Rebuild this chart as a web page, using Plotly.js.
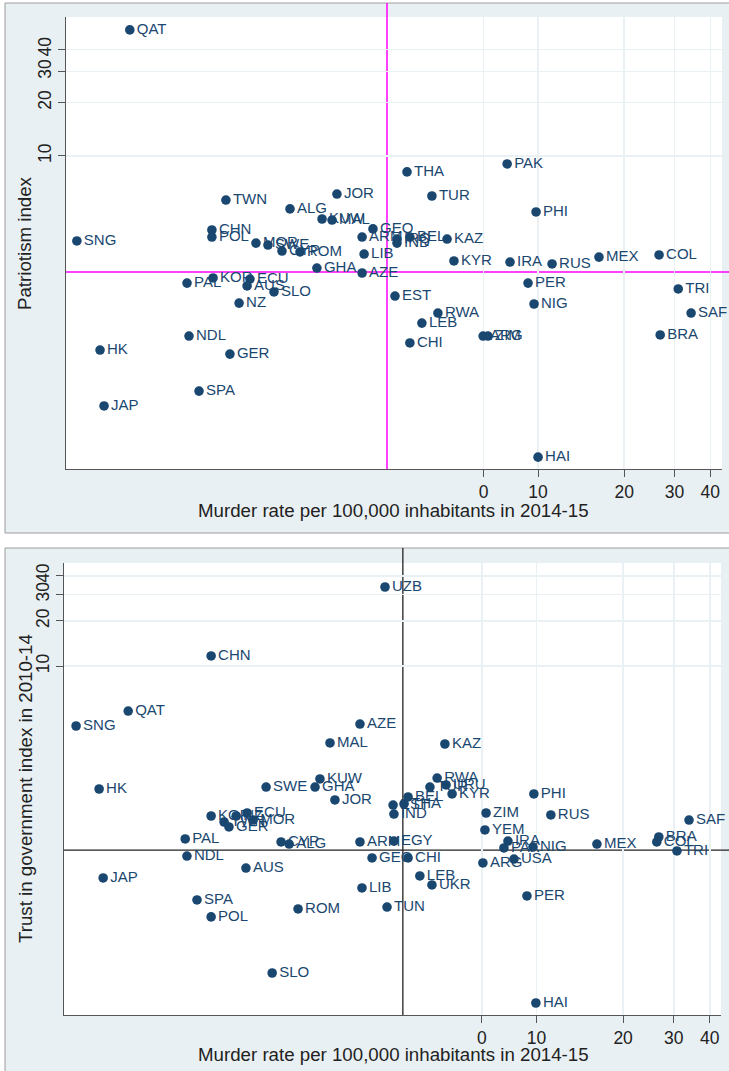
<!DOCTYPE html>
<html><head><meta charset="utf-8">
<script src="https://cdn.plot.ly/plotly-3.0.1.min.js"></script>
<style>html,body{margin:0;padding:0;background:#fff}</style>
</head><body><div id="chart" style="width:729px;height:1071px"></div>
<script>
// ---- Panel 1: patriotism vs murder rate (values are log10 of the plotted quantity) ----
const p1Countries = ['QAT','SNG','TWN','CHN','POL','JOR','ALG','KUW','MAL','GEO','ARM','IRQ','IND','BEL','THA','TUR','KAZ','PAK','PHI','MOR','SWE','CYP','ROM','LIB','GHA','AZE','EST','RWA','LEB','CHI','KYR','ECU','AUS','SLO','NZ','KOR','PAL','NDL','HK','GER','SPA','JAP','IRA','RUS','MEX','COL','PER','NIG','TRI','SAF','BRA','HAI','ARG','ZIM'];
const p1LogMurder = [-0.427,-0.612,-0.091,-0.140,-0.140,0.297,0.133,0.245,0.280,0.423,0.385,0.507,0.507,0.552,0.542,0.629,0.682,0.892,0.993,0.014,0.056,0.105,0.168,0.392,0.227,0.385,0.500,0.650,0.594,0.552,0.706,-0.007,-0.017,0.077,-0.045,-0.136,-0.227,-0.220,-0.531,-0.077,-0.185,-0.517,0.902,1.049,1.213,1.423,0.965,0.986,1.490,1.535,1.427,1.000,0.808,0.825];
const p1LogPatriotism = [1.712,0.520,0.751,0.582,0.542,0.785,0.701,0.644,0.638,0.588,0.542,0.531,0.508,0.542,0.910,0.774,0.531,0.955,0.684,0.508,0.497,0.463,0.458,0.446,0.367,0.339,0.209,0.113,0.056,-0.056,0.407,0.305,0.266,0.232,0.169,0.311,0.282,-0.017,-0.096,-0.119,-0.328,-0.412,0.401,0.390,0.429,0.441,0.282,0.164,0.249,0.113,-0.011,-0.701,-0.017,-0.017];
const p1MedianLogMurder = 0.472;
const p1MedianLogPatriotism = 0.345;

// ---- Panel 2: trust in government vs murder rate ----
const p2Countries = ['QAT','SNG','HK','KOR','NZ','ECU','TWN','MOR','GER','PAL','NDL','JAP','SPA','POL','CHN','UZB','AZE','MAL','KAZ','KUW','SWE','GHA','RWA','TUR','URU','KYR','JOR','BEL','EST','THA','IND','CYP','ALG','ARM','EGY','GEO','CHI','AUS','LIB','LEB','UKR','ROM','TUN','SLO','ZIM','YEM','ARG','PHI','RUS','SAF','IRA','PAK','NIG','USA','MEX','BRA','COL','TRI','PER','HAI'];
const p2LogMurder = [-0.418,-0.599,-0.519,-0.130,-0.043,-0.005,-0.085,0.016,-0.068,-0.220,-0.214,-0.505,-0.179,-0.130,-0.130,0.474,0.387,0.283,0.682,0.248,0.061,0.231,0.655,0.630,0.686,0.707,0.300,0.554,0.502,0.540,0.505,0.113,0.141,0.387,0.505,0.429,0.554,-0.009,0.394,0.595,0.637,0.172,0.481,0.082,0.825,0.821,0.814,0.991,1.050,1.530,0.901,0.887,0.988,0.922,1.210,1.425,1.418,1.488,0.967,0.998];
const p2LogTrust = [0.700,0.600,0.180,0.000,0.000,0.020,-0.040,-0.027,-0.073,-0.153,-0.267,-0.413,-0.560,-0.673,1.067,1.527,0.613,0.487,0.480,0.247,0.193,0.193,0.253,0.193,0.207,0.147,0.107,0.127,0.073,0.080,0.013,-0.173,-0.187,-0.173,-0.167,-0.280,-0.280,-0.347,-0.480,-0.400,-0.460,-0.620,-0.607,-1.047,0.020,-0.093,-0.313,0.147,0.007,-0.027,-0.167,-0.213,-0.207,-0.287,-0.187,-0.140,-0.173,-0.233,-0.533,-1.247];
const p2MedianLogMurder = 0.536;
const p2MedianLogTrust = -0.227;

// ---- Tick labels (positions on the log10 scale) ----
const xTickLabels = ['0','10','20','30','40'];
const xTickLog = [0.81, 1, 1.301, 1.477, 1.602];
const yTickLabels = ['10','20','30','40'];
const yTickLog = [1, 1.301, 1.477, 1.602];

const xTitle = 'Murder rate per 100,000 inhabitants in 2014-15';
const y1Title = 'Patriotism index';
const y2Title = 'Trust in government index in 2010-14';

const W = 729, H = 1071;
const fx = v => v / W;
const fy = v => 1 - v / H;
const NAVY = '#1a476f';
const FONT = 'Liberation Sans, Arial, Helvetica, sans-serif';
const TITLE_FONT = {family: FONT, size: 18.7, color: '#222'};

function pointTrace(names, xs, ys, xa, ya) {
  return {
    type: 'scatter', mode: 'markers+text',
    x: xs, y: ys, text: names, xaxis: xa, yaxis: ya,
    textposition: 'middle right',
    textfont: {family: FONT, size: 15, color: NAVY},
    marker: {size: 9.6, color: NAVY},
    cliponaxis: false, hoverinfo: 'skip'
  };
}

const axisCommon = {
  type: 'linear', showline: true, linecolor: '#555', linewidth: 1,
  ticks: 'outside', ticklen: 7, tickcolor: '#555', tickwidth: 1,
  showgrid: true, gridcolor: '#eaf1f4', gridwidth: 1.5, zeroline: false,
  tickfont: {family: FONT, size: 17.5, color: '#222'}, fixedrange: true
};

function titleAnno(text, xpx, ypx, angle) {
  return {text: text, xref: 'paper', yref: 'paper', x: fx(xpx), y: fy(ypx),
          xanchor: 'center', yanchor: 'middle', textangle: angle, showarrow: false, font: TITLE_FONT};
}

const layout = {
  width: W, height: H, margin: {l: 0, r: 0, t: 0, b: 0},
  paper_bgcolor: '#ffffff', plot_bgcolor: '#ffffff', showlegend: false,
  font: {family: FONT},
  xaxis: Object.assign({}, axisCommon, {
    domain: [fx(66), fx(722)], range: [-0.650, 1.643], anchor: 'y',
    tickmode: 'array', tickvals: xTickLog, ticktext: xTickLabels
  }),
  yaxis: Object.assign({}, axisCommon, {
    domain: [fy(469), fy(17)], range: [-0.768, 1.785], anchor: 'x',
    tickmode: 'array', tickvals: yTickLog, ticktext: yTickLabels, tickangle: -90
  }),
  xaxis2: Object.assign({}, axisCommon, {
    domain: [fx(64), fx(721)], range: [-0.641, 1.641], anchor: 'y2',
    tickmode: 'array', tickvals: xTickLog, ticktext: xTickLabels
  }),
  yaxis2: Object.assign({}, axisCommon, {
    domain: [fy(1015), fy(563)], range: [-1.327, 1.687], anchor: 'x2',
    tickmode: 'array', tickvals: yTickLog, ticktext: yTickLabels, tickangle: -90
  }),
  annotations: [
    titleAnno(xTitle, 394, 510, 0),
    titleAnno(xTitle, 393, 1054, 0),
    titleAnno(y1Title, 25, 243, -90),
    titleAnno(y2Title, 25, 789, -90)
  ],
  shapes: [
    {type: 'rect', xref: 'paper', yref: 'paper', x0: fx(5), x1: 1.01, y0: fy(533), y1: fy(3),
     fillcolor: '#e9f0f3', line: {color: '#9c9c9c', width: 1}, layer: 'below'},
    {type: 'rect', xref: 'paper', yref: 'paper', x0: fx(5), x1: 1.01, y0: -0.01, y1: fy(548),
     fillcolor: '#e9f0f3', line: {color: '#9c9c9c', width: 1}, layer: 'below'},
    {type: 'rect', xref: 'paper', yref: 'paper', x0: fx(66), x1: fx(722), y0: fy(469), y1: fy(17),
     fillcolor: '#ffffff', line: {width: 0}, layer: 'below'},
    {type: 'rect', xref: 'paper', yref: 'paper', x0: fx(64), x1: fx(721), y0: fy(1015), y1: fy(563),
     fillcolor: '#ffffff', line: {width: 0}, layer: 'below'},
    {type: 'line', xref: 'x', yref: 'paper', x0: p1MedianLogMurder, x1: p1MedianLogMurder, y0: fy(469), y1: fy(3),
     line: {color: '#ff00ff', width: 1.5}, layer: 'below'},
    {type: 'line', xref: 'paper', yref: 'y', x0: fx(66), x1: 1, y0: p1MedianLogPatriotism, y1: p1MedianLogPatriotism,
     line: {color: '#ff00ff', width: 1.5}, layer: 'below'},
    {type: 'line', xref: 'x2', yref: 'paper', x0: p2MedianLogMurder, x1: p2MedianLogMurder, y0: fy(1015), y1: fy(548),
     line: {color: '#222222', width: 1.3}, layer: 'below'},
    {type: 'line', xref: 'paper', yref: 'y2', x0: fx(64), x1: 1, y0: p2MedianLogTrust, y1: p2MedianLogTrust,
     line: {color: '#222222', width: 1.3}, layer: 'below'}
  ]
};

Plotly.newPlot('chart', [
  pointTrace(p1Countries, p1LogMurder, p1LogPatriotism, 'x', 'y'),
  pointTrace(p2Countries, p2LogMurder, p2LogTrust, 'x2', 'y2')
], layout, {staticPlot: true, displayModeBar: false});
</script>
</body></html>
